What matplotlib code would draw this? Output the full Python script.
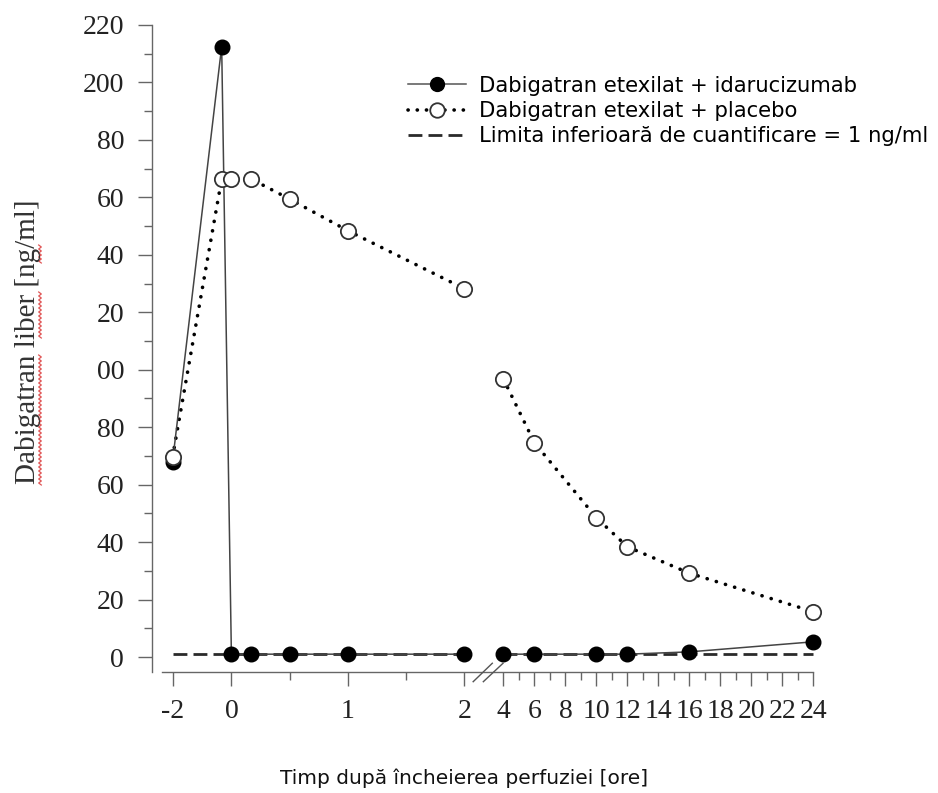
import numpy as np
import matplotlib
matplotlib.use('Agg')
from matplotlib import pyplot as plt
from matplotlib.scale import FuncScale
from matplotlib.ticker import FixedLocator, FixedFormatter
from matplotlib.lines import Line2D

# timp (ore) si concentratii (ng/ml)
t_ida = [-2, -0.33, 0, 0.17, 0.5, 1, 2, 4, 6, 10, 12, 16, 24]
c_ida = [68, 212.5, 1, 1, 1, 1, 1, 1, 1, 1, 1, 1.8, 5.3]

t_pla = [-2, -0.33, 0, 0.17, 0.5, 1, 2, 4, 6, 10, 12, 16, 24]
c_pla = [69.6, 166.4, 166.4, 166.4, 159.4, 148.4, 128.2, 96.8, 74.6, 48.5, 38.4, 29.2, 15.8]

lloq = 1
t_lloq = [-2, 2, 4, 24]

x_ticks = [-2, 0, 1, 2] + list(range(4, 25, 2))
x_labels = ['-2', '0', '1', '2'] + [str(h) for h in range(4, 25, 2)]
x_minor = [0.5, 1.5] + list(range(5, 24, 2))

y_ticks = list(range(0, 221, 20))
y_labels = ['0', '20', '40', '60', '80', '00', '20', '40', '60', '80', '200', '220']
y_minor = list(range(10, 220, 20))

# axa de timp rupta: -2..0 comprimat, 0..2 normal, 4..24 comprimat
ore = np.array([-4, -2, 0, 2, 4, 24, 30])
poz = np.array([-1.01, -0.505, 0, 2, 2.335, 4.994, 5.792])


def fwd(x):
    return np.interp(x, ore, poz)


def inv(x):
    return np.interp(x, poz, ore)


serif = 'Liberation Serif'
sans = 'DejaVu Sans'

fig = plt.figure(figsize=(9.38, 7.93), dpi=100)
ax = fig.add_axes([0.1620, 0.1526, 0.7228, 0.8159])
ax.set_xscale(FuncScale(ax, (fwd, inv)))
ax.set_xlim(-2.70, 25.08)
ax.set_ylim(-5.2, 220)

t_ida = np.array(t_ida)
c_ida = np.array(c_ida)
t_pla = np.array(t_pla)
c_pla = np.array(c_pla)

# limita de cuantificare, pe cele doua segmente
for a, b in [(t_lloq[0], t_lloq[1]), (t_lloq[2], t_lloq[3])]:
    ax.plot([a, b], [lloq, lloq], color='#2a2a2a', lw=2.0,
            dashes=(5, 2.2), zorder=2)

for seg in [t_pla <= 2, t_pla >= 4]:
    ax.plot(t_pla[seg], c_pla[seg], color='black', lw=2.6,
            linestyle=(0, (0.05, 2.6)), dash_capstyle='round', zorder=3)
    ax.plot(t_pla[seg], c_pla[seg], linestyle='none', marker='o', ms=11,
            mfc='white', mec='#333333', mew=1.3, zorder=5)

for seg in [t_ida <= 2, t_ida >= 4]:
    ax.plot(t_ida[seg], c_ida[seg], color='#444444', lw=1.1, zorder=4)
    ax.plot(t_ida[seg], c_ida[seg], linestyle='none', marker='o', ms=10.5,
            mfc='black', mec='black', zorder=4)

# axe
for s in ['top', 'right']:
    ax.spines[s].set_visible(False)
for s in ['left', 'bottom']:
    ax.spines[s].set_color('#666666')
    ax.spines[s].set_linewidth(1.0)
ax.spines['bottom'].set_bounds(-2.36, 24)

ax.xaxis.set_major_locator(FixedLocator(x_ticks))
ax.xaxis.set_major_formatter(FixedFormatter(x_labels))
ax.xaxis.set_minor_locator(FixedLocator(x_minor))
ax.yaxis.set_major_locator(FixedLocator(y_ticks))
ax.yaxis.set_major_formatter(FixedFormatter(y_labels))
ax.yaxis.set_minor_locator(FixedLocator(y_minor))

ax.tick_params(axis='both', which='major', direction='out', length=10,
               width=1.0, color='#666666', labelcolor='#222222',
               labelsize=20)
ax.tick_params(axis='both', which='minor', direction='out', length=6,
               width=1.0, color='#666666')
ax.tick_params(axis='x', which='major', pad=9.5)
ax.tick_params(axis='y', which='major', pad=10)
for lab in ax.get_xticklabels() + ax.get_yticklabels():
    lab.set_fontfamily(serif)

# semnul de intrerupere a axei
tr = ax.get_xaxis_transform()
for x0, x1 in [(2.45, 3.43), (2.97, 3.98)]:
    ax.plot([x0, x1], [-0.015, 0.0135], color='#555555', lw=1.0,
            transform=tr, clip_on=False, zorder=6)

# legenda
h1 = Line2D([], [], color='#555555', lw=1.1, marker='o', ms=10.5,
            mfc='black', mec='black')
h2 = Line2D([], [], color='black', lw=2.6, linestyle=(0, (0.05, 2.5)),
            dash_capstyle='round', marker='o', ms=11, mfc='white',
            mec='#333333', mew=1.3)
h3 = Line2D([], [], color='#2a2a2a', lw=2.0, dashes=(5, 2.2))
ax.legend([h1, h2, h3],
          ['Dabigatran etexilat + idarucizumab',
           'Dabigatran etexilat + placebo',
           'Limita inferioară de cuantificare = 1 ng/ml'],
          loc='upper left', bbox_to_anchor=(0.435, 0.9044),
          bbox_transform=fig.transFigure, frameon=False,
          prop={'family': sans, 'size': 15.2}, borderpad=0,
          borderaxespad=0, handlelength=2.75, handletextpad=0.6,
          labelspacing=0.25, markerscale=0.95)

fig.text(464 / 938, 1 - 778 / 793, 'Timp după încheierea perfuziei [ore]',
         ha='center', va='center', family=sans, fontsize=14.5, color='#111111')
fig.text(28 / 938, 1 - 342 / 793, 'Dabigatran liber [ng/ml]', rotation=90,
         ha='center', va='center', family=serif, fontsize=21, color='#333333')

# sublinierea ondulata rosie de sub eticheta
W, H = 938, 793
for y_a, y_b in [(355, 487), (292, 340), (245, 264)]:
    ys = np.arange(y_a, y_b, 2.0)
    xs = 40 + np.where(np.arange(len(ys)) % 2 == 0, -1.3, 1.3)
    fig.add_artist(Line2D(xs / W, 1 - ys / H, color='#e05555', lw=0.9,
                          transform=fig.transFigure))

fig.savefig('out.png', dpi=100)
